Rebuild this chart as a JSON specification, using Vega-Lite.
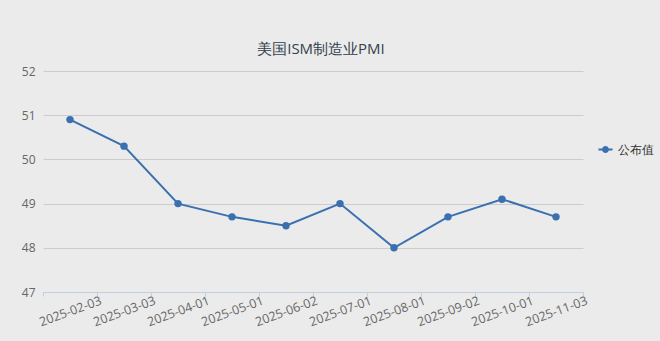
{
  "$schema": "https://vega.github.io/schema/vega-lite/v6.json",
  "width": 540,
  "height": 221,
  "autosize": {"type": "none"},
  "padding": {"left": 43, "top": 71, "right": 77, "bottom": 49},
  "background": "#ebebeb",
  "title": {
    "text": "美国ISM制造业PMI",
    "font": "Open Sans",
    "fontSize": 15,
    "fontWeight": "normal",
    "color": "#333f4d",
    "anchor": "middle",
    "offset": 8,
    "dx": 8
  },
  "data": {
    "values": [
      {"date": "2025-02-03", "value": 50.9, "series": "公布值"},
      {"date": "2025-03-03", "value": 50.3, "series": "公布值"},
      {"date": "2025-04-01", "value": 49.0, "series": "公布值"},
      {"date": "2025-05-01", "value": 48.7, "series": "公布值"},
      {"date": "2025-06-02", "value": 48.5, "series": "公布值"},
      {"date": "2025-07-01", "value": 49.0, "series": "公布值"},
      {"date": "2025-08-01", "value": 48.0, "series": "公布值"},
      {"date": "2025-09-02", "value": 48.7, "series": "公布值"},
      {"date": "2025-10-01", "value": 49.1, "series": "公布值"},
      {"date": "2025-11-03", "value": 48.7, "series": "公布值"}
    ]
  },
  "mark": {"type": "line", "point": {"filled": true, "size": 55}, "strokeWidth": 2},
  "encoding": {
    "x": {
      "field": "date",
      "type": "ordinal",
      "bandPosition": 0.5,
      "scale": {"type": "band", "paddingInner": 0, "paddingOuter": 0},
      "axis": {
        "title": null,
        "labelAngle": -20,
        "labelAlign": "center",
        "labelBaseline": "middle",
        "labelFont": "Open Sans",
        "labelFontSize": 12.5,
        "labelColor": "#666666",
        "labelPadding": 15,
        "domainColor": "#c0d0e0",
        "ticks": true,
        "tickBand": "extent",
        "tickColor": "#c0d0e0",
        "tickSize": 4,
        "grid": false
      }
    },
    "y": {
      "field": "value",
      "type": "quantitative",
      "scale": {"domain": [47, 52], "nice": false, "zero": false},
      "axis": {
        "title": null,
        "values": [47, 48, 49, 50, 51, 52],
        "domain": false,
        "ticks": false,
        "labelFont": "Open Sans",
        "labelFontSize": 12,
        "labelColor": "#666666",
        "labelPadding": 8,
        "gridColor": "#cccccc",
        "gridWidth": 1
      }
    },
    "color": {
      "field": "series",
      "type": "nominal",
      "scale": {"range": ["#3a70b0"]},
      "legend": {
        "title": null,
        "orient": "none",
        "legendX": 554,
        "legendY": 70,
        "symbolType": "M-1,0L1,0M-0.35,0a0.35,0.35 0 1,0 0.7,0a0.35,0.35 0 1,0 -0.7,0",
        "symbolSize": 200,
        "symbolStrokeWidth": 2,
        "labelOffset": 4,
        "labelFont": "Open Sans",
        "labelFontSize": 12,
        "labelColor": "#333333",
        "padding": 0
      }
    }
  },
  "config": {
    "view": {"stroke": null}
  }
}
